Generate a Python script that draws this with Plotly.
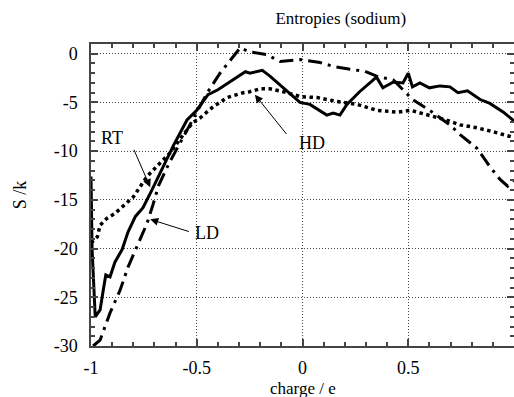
import plotly.graph_objects as go

# RT (solid)
rt_x = [-1.0, -0.995, -0.98, -0.957, -0.94, -0.93, -0.91, -0.887, -0.853, -0.825, -0.79, -0.754,
        -0.71, -0.66, -0.61, -0.546, -0.5, -0.447, -0.40, -0.33, -0.27, -0.248, -0.19, -0.154,
        -0.09, -0.012, 0.035, 0.115, 0.145, 0.177, 0.21, 0.27, 0.35, 0.38, 0.43, 0.475, 0.5,
        0.52, 0.555, 0.60, 0.65, 0.697, 0.735, 0.78, 0.84, 0.886, 0.95, 1.0]
rt_y = [-12.6, -20.0, -27.0, -26.3, -24.0, -22.7, -22.9, -21.4, -20.1, -18.3, -16.7, -15.8,
        -13.9, -11.6, -9.4, -6.8, -5.8, -4.2, -3.7, -2.7, -1.85, -2.0, -1.7, -2.3,
        -3.5, -5.0, -5.2, -6.3, -6.1, -6.3, -5.2, -3.9, -2.4, -3.5, -2.9, -3.0, -2.0,
        -3.4, -3.0, -3.5, -3.3, -3.4, -4.0, -3.8, -4.7, -5.1, -6.0, -6.9]

# LD (dash-dot)
ld_x = [-0.99, -0.957, -0.91, -0.863, -0.825, -0.783, -0.735, -0.707, -0.68, -0.63, -0.57,
        -0.5, -0.45, -0.39, -0.33, -0.295, -0.25, -0.168, -0.106, -0.01, 0.083, 0.145, 0.225,
        0.295, 0.35, 0.43, 0.52, 0.6, 0.697, 0.745, 0.825, 0.886, 0.934, 0.97, 1.0]
ld_y = [-30.0, -29.4, -26.6, -24.3, -21.9, -19.8, -17.4, -15.5, -13.5, -11.2, -8.8,
        -6.1, -4.0, -2.0, -0.3, 0.6, 0.2, -0.1, -0.8, -0.6, -0.9, -1.3, -1.6,
        -1.8, -2.3, -2.7, -4.7, -5.8, -7.3, -8.3, -9.7, -11.6, -12.9, -13.6, -13.0]

# HD (dotted)
hd_x = [-1.0, -0.97, -0.957, -0.925, -0.887, -0.83, -0.80, -0.735, -0.67, -0.627, -0.57,
        -0.52, -0.485, -0.42, -0.356, -0.28, -0.25, -0.2, -0.154, -0.09, -0.01, 0.07, 0.163,
        0.258, 0.35, 0.447, 0.51, 0.6, 0.68, 0.745, 0.825, 0.9, 1.0]
hd_y = [-19.4, -18.8, -17.6, -16.9, -16.4, -15.3, -14.7, -12.6, -11.2, -10.2, -8.5,
        -7.1, -6.6, -5.4, -4.5, -4.0, -3.9, -3.6, -3.6, -3.9, -4.4, -4.5, -4.9,
        -5.2, -5.8, -6.0, -5.8, -6.3, -6.8, -7.3, -7.6, -8.0, -8.6]

x_ticks = [-1, -0.5, 0, 0.5, 1]
x_ticktext = ["-1", "-0.5", "0", "0.5", "1"]
y_ticks = [0, -5, -10, -15, -20, -25, -30]
y_ticktext = ["0", "-5", "-10", "-15", "-20", "-25", "-30"]

FONT = "Liberation Serif"
TXT = dict(family=FONT, size=18, color="black")

fig = go.Figure()
fig.add_trace(go.Scatter(x=rt_x, y=rt_y, mode="lines", name="RT",
                         line=dict(color="black", width=3)))
fig.add_trace(go.Scatter(x=ld_x, y=ld_y, mode="lines", name="LD",
                         line=dict(color="black", width=3, dash="14px,6px,3px,6px")))
fig.add_trace(go.Scatter(x=hd_x, y=hd_y, mode="lines", name="HD",
                         line=dict(color="black", width=3.5, dash="dot")))

axis_common = dict(
    showline=True, linecolor="#444", linewidth=1.5, mirror="ticks",
    ticks="inside", ticklen=7, tickcolor="#444", tickwidth=1.5,
    showgrid=True, gridcolor="#444", gridwidth=1, griddash="1px,2px",
    zeroline=False, tickfont=TXT,
)

fig.update_xaxes(range=[-1, 1], tickvals=x_ticks, ticktext=x_ticktext,
                 minor=dict(ticks="inside", ticklen=4, dtick=0.1, tick0=0, tickcolor="#444", showgrid=False),
                 automargin=False, ticklabelstandoff=5, **axis_common)
fig.update_yaxes(range=[-30, 1], tickvals=y_ticks, ticktext=y_ticktext,
                 minor=dict(ticks="inside", ticklen=4, dtick=1, tick0=0, tickcolor="#444", showgrid=False),
                 title=dict(text="S /k", font=TXT, standoff=22), automargin=False,
                 ticklabelstandoff=8, **axis_common)

fig.add_annotation(x=0.5, y=-0.14, xref="paper", yref="paper", text="charge / e",
                   showarrow=False, font=dict(family=FONT, size=17, color="black"),
                   xanchor="center", yanchor="middle")

arrow = dict(showarrow=True, arrowhead=2, arrowsize=1.6, arrowwidth=1, arrowcolor="black",
             axref="x", ayref="y", xref="x", yref="y")
fig.add_annotation(x=-0.72, y=-13.7, ax=-0.80, ay=-9.7, text="", **arrow)
fig.add_annotation(x=-0.9, y=-8.6, text="RT", showarrow=False, font=TXT)
fig.add_annotation(x=-0.72, y=-17.0, ax=-0.53, ay=-18.3, text="", **arrow)
fig.add_annotation(x=-0.45, y=-18.4, text="LD", showarrow=False, font=TXT)
fig.add_annotation(x=-0.225, y=-4.2, ax=-0.07, ay=-8.4, text="", **arrow)
fig.add_annotation(x=0.045, y=-9.2, text="HD", showarrow=False, font=TXT)

fig.update_layout(
    width=514, height=397,
    margin=dict(l=91, r=0, t=44, b=51),
    paper_bgcolor="white", plot_bgcolor="white",
    showlegend=False,
    title=dict(text="Entropies (sodium)", x=0.663, xanchor="center", y=0.955, yanchor="middle",
               font=dict(family=FONT, size=17, color="black")),
)

fig.write_html("out.html")
